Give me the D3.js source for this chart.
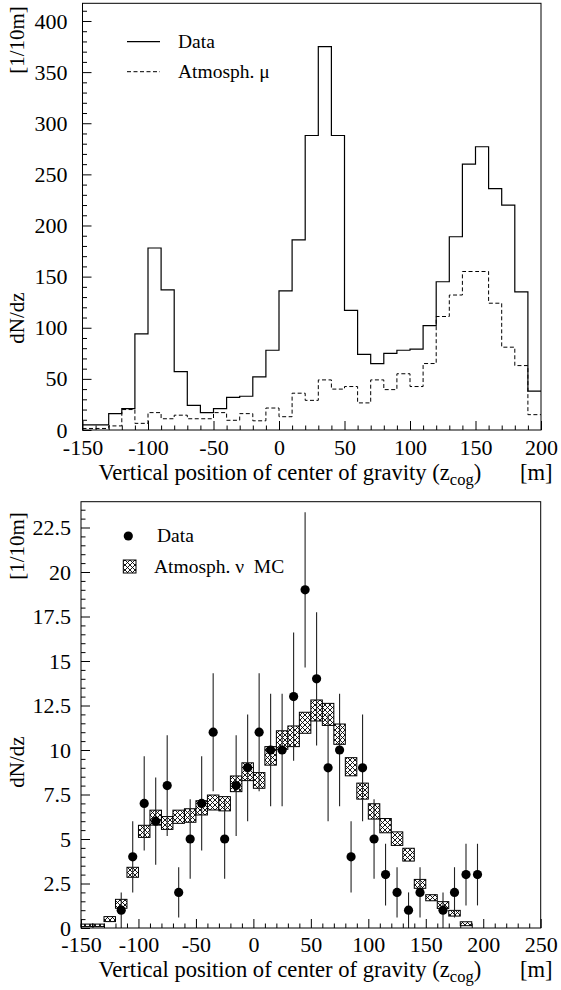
<!DOCTYPE html>
<html>
<head>
<meta charset="utf-8">
<script src="https://cdn.jsdelivr.net/npm/d3@7"></script>
<style>
  html, body { margin: 0; padding: 0; background: #fff; }
  svg { display: block; }
  text { font-family: "Liberation Serif", "Times New Roman", serif; fill: #000; }
</style>
</head>
<body>
<svg id="chart" width="561" height="990"></svg>
<script>
// ---------- Top panel data (10 m bins, lower edges) ----------
const topBinEdges = [-150,-140,-130,-120,-110,-100,-90,-80,-70,-60,-50,-40,-30,-20,-10,0,10,20,30,40,50,60,70,80,90,100,110,120,130,140,150,160,170,180,190];
const topDataCounts = [5,5,16,21,94,178,137,57,24,17,21,32,33,52,78,136,186,288,375,288,117,74,65,75,78,79,102,145,189,260,277,236,220,135,38];
const topAtmMu = [1.5,1.5,4,20,6.5,17,11,14.5,11,11,17,9.5,16,9,21.5,13,36,29,49,40,42.5,26.5,49,39.5,55,42.5,65,111,132,155,155,124,81,63,15];
const topXTicks = [-150,-100,-50,0,50,100,150,200];
const topYTicks = [0,50,100,150,200,250,300,350,400];

// ---------- Bottom panel data ----------
const botDataX = [-115,-105,-95,-85,-75,-65,-55,-45,-35,-25,-15,-5,5,15,25,35,45,55,65,75,85,95,105,115,125,135,145,165,175,185,195];
const botDataN = [1,4,7,6,8,2,5,7,11,5,8,9,11,10,10,13,19,14,9,10,4,9,5,3,2,1,2,1,2,3,3];
const botMcX = [-145,-135,-125,-115,-105,-95,-85,-75,-65,-55,-45,-35,-25,-15,-5,5,15,25,35,45,55,65,75,85,95,105,115,125,135,145,155,165,175,185];
const botMcVal = [0.15,0.15,0.5,1.36,3.13,5.43,6.2,5.9,6.25,6.32,6.75,7.05,6.98,8.1,8.78,8.29,9.67,10.56,10.77,11.53,12.22,12.0,10.89,9.06,7.69,6.55,5.75,5.02,4.12,2.48,1.7,1.29,0.83,0.24];
const botMcErr = [0.07,0.07,0.14,0.25,0.28,0.34,0.42,0.36,0.37,0.38,0.40,0.42,0.40,0.44,0.5,0.44,0.52,0.52,0.58,0.59,0.59,0.62,0.57,0.51,0.45,0.43,0.40,0.38,0.36,0.25,0.17,0.19,0.16,0.11];
const botXTicks = [-150,-100,-50,0,50,100,150,200,250];
const botYTicks = [0,2.5,5,7.5,10,12.5,15,17.5,20,22.5];
const binWidth = 10;

const svg = d3.select("#chart");
const FS = 22;     // tick labels
const TFS = 22.6;  // axis titles
const LFS = 19.5;  // legend text

// hatch pattern
const defs = svg.append("defs");
const pat = defs.append("pattern").attr("id","xhatch").attr("patternUnits","userSpaceOnUse")
  .attr("width",5).attr("height",5);
pat.append("rect").attr("width",5).attr("height",5).attr("fill","#fff");
pat.append("path").attr("d","M0,0L5,5M5,0L0,5M-1,4L1,6M4,-1L6,1M-1,1L1,-1M4,6L6,4")
  .attr("stroke","#000").attr("stroke-width",0.9);

function frame(g, x, y) {
  const [x0,x1] = x.range(), [y0,y1] = y.range();
  g.append("rect").attr("x",x0).attr("y",y1).attr("width",x1-x0).attr("height",y0-y1)
    .attr("fill","none").attr("stroke","#000").attr("stroke-width",1);
}

function axes(g, x, y, xMajor, yMajor, xMinorStep, yMinorStep, xPad, yPad) {
  const [x0,x1] = x.range(), [y0,y1] = y.range();
  const xd = x.domain(), yd = y.domain();
  const xMinor = d3.range(xd[0], xd[1] + 1e-9, xMinorStep).filter(v => !xMajor.some(m => Math.abs(m-v) < 1e-6));
  const yMinor = d3.range(yd[0], yd[1] + 1e-9, yMinorStep).filter(v => !yMajor.some(m => Math.abs(m-v) < 1e-6));
  const gx = g.append("g").attr("transform",`translate(0,${y0})`);
  gx.call(d3.axisBottom(x).tickValues(xMajor).tickSizeInner(-9).tickSizeOuter(0).tickPadding(xPad)
      .tickFormat(d => String(d)));
  gx.append("g").call(d3.axisBottom(x).tickValues(xMinor).tickSizeInner(-4.5).tickSizeOuter(0).tickFormat(""));
  const gy = g.append("g").attr("transform",`translate(${x0},0)`);
  gy.call(d3.axisLeft(y).tickValues(yMajor).tickSizeInner(-9).tickSizeOuter(0).tickPadding(yPad)
      .tickFormat(d => String(d)));
  gy.append("g").call(d3.axisLeft(y).tickValues(yMinor).tickSizeInner(-4.5).tickSizeOuter(0).tickFormat(""));
  g.selectAll(".domain").remove();
  g.selectAll(".tick line").attr("stroke","#000").attr("stroke-width",1);
  g.selectAll(".tick text").attr("font-size",FS).attr("font-family","Liberation Serif").attr("fill","#000");
}

function xTitle(g, xPos, yPos, unitX) {
  const t = g.append("text").attr("x",xPos).attr("y",yPos).attr("font-size",TFS);
  t.append("tspan").text("Vertical position of center of gravity (z");
  t.append("tspan").attr("font-size",16.5).attr("dy",5).text("cog");
  t.append("tspan").attr("dy",-5).text(")");
  g.append("text").attr("x",unitX).attr("y",yPos).attr("font-size",TFS).text("[m]");
}

function yTitles(g, cx1, cy1, cy2) {
  g.append("text").attr("transform",`translate(${cx1},${cy1}) rotate(-90)`).attr("text-anchor","middle")
    .attr("font-size",21).text("[1/10m]");
  g.append("text").attr("transform",`translate(${cx1},${cy2}) rotate(-90)`).attr("text-anchor","middle")
    .attr("font-size",21).text("dN/dz");
}

// ================= TOP PANEL =================
const xTop = d3.scaleLinear().domain([-150,200]).range([82.5,541]);
const yTop = d3.scaleLinear().domain([0,417.3]).range([430,3.3]);
const gTop = svg.append("g");

const stepLine = (xs, vals, x, y) => {
  const pts = xs.map((e,i) => [e, vals[i]]);
  pts.push([xs[xs.length-1] + binWidth, vals[vals.length-1]]);
  return d3.line().x(d => x(d[0])).y(d => y(d[1])).curve(d3.curveStepAfter)(pts);
};

gTop.append("path").attr("d", stepLine(topBinEdges, topAtmMu, xTop, yTop))
  .attr("fill","none").attr("stroke","#000").attr("stroke-width",1).attr("stroke-dasharray","4,2.5");
gTop.append("path").attr("d", stepLine(topBinEdges, topDataCounts, xTop, yTop))
  .attr("fill","none").attr("stroke","#000").attr("stroke-width",1.2);

frame(gTop, xTop, yTop);
axes(gTop, xTop, yTop, topXTicks, topYTicks, 10, 10, 9, 15);
xTitle(gTop, 98.5, 480, 520);
yTitles(gTop, 24, 40, 318);

// legend top
gTop.append("line").attr("x1",127).attr("x2",160).attr("y1",41.7).attr("y2",41.7).attr("stroke","#000").attr("stroke-width",1.2);
gTop.append("text").attr("x",178).attr("y",48).attr("font-size",LFS).text("Data");
gTop.append("line").attr("x1",127).attr("x2",160).attr("y1",71.7).attr("y2",71.7).attr("stroke","#000").attr("stroke-dasharray","4,2.5");
gTop.append("text").attr("x",178).attr("y",78).attr("font-size",LFS).text("Atmosph. μ");

// ================= BOTTOM PANEL =================
const xBot = d3.scaleLinear().domain([-150,250]).range([81,540.7]);
const yBot = d3.scaleLinear().domain([0,23.95]).range([928,501.7]);
const gBot = svg.append("g");

gBot.selectAll("rect.mc").data(botMcX).join("rect").attr("class","mc")
  .attr("x", (d) => xBot(d - binWidth/2))
  .attr("width", (d) => xBot(d + binWidth/2) - xBot(d - binWidth/2))
  .attr("y", (d,i) => yBot(botMcVal[i] + botMcErr[i]))
  .attr("height", (d,i) => yBot(botMcVal[i] - botMcErr[i]) - yBot(botMcVal[i] + botMcErr[i]))
  .attr("fill","url(#xhatch)").attr("stroke","#000").attr("stroke-width",1);

gBot.selectAll("line.err").data(botDataX).join("line").attr("class","err")
  .attr("x1", d => xBot(d)).attr("x2", d => xBot(d))
  .attr("y1", (d,i) => yBot(botDataN[i] + Math.sqrt(botDataN[i])))
  .attr("y2", (d,i) => yBot(Math.max(0, botDataN[i] - Math.sqrt(botDataN[i]))))
  .attr("stroke","#222").attr("stroke-width",1.1);
gBot.selectAll("circle.pt").data(botDataX).join("circle").attr("class","pt")
  .attr("cx", d => xBot(d)).attr("cy", (d,i) => yBot(botDataN[i])).attr("r",4.6).attr("fill","#000");

frame(gBot, xBot, yBot);
axes(gBot, xBot, yBot, botXTicks, botYTicks, 10, 0.5, 8, 10);
xTitle(gBot, 98.5, 977, 520);
yTitles(gBot, 24, 546, 762);

// legend bottom
gBot.append("circle").attr("cx",128.3).attr("cy",536).attr("r",4.6).attr("fill","#000");
gBot.append("text").attr("x",157).attr("y",542).attr("font-size",LFS).text("Data");
gBot.append("rect").attr("x",123.3).attr("y",560).attr("width",12.7).attr("height",13)
  .attr("fill","url(#xhatch)").attr("stroke","#000");
gBot.append("text").attr("x",154).attr("y",573).attr("font-size",LFS).style("white-space","pre").text("Atmosph. ν  MC");
</script>
</body>
</html>
